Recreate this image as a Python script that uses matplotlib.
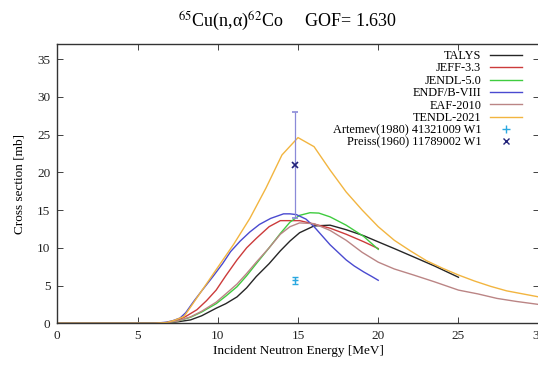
#!/usr/bin/env python3
"""Cross-section comparison plot for 65Cu(n,a)62Co."""

import matplotlib
matplotlib.use('Agg')
import matplotlib.pyplot as plt
from matplotlib.lines import Line2D

plt.rcParams['font.family'] = ['Liberation Serif', 'DejaVu Serif']
plt.rcParams['mathtext.fontset'] = 'stix'

# ── Evaluated cross sections [MeV, mb] ───────────────────────────────────
talys_e = [0, 6.0, 6.8, 7.5, 8.3, 9.0, 9.9, 10.5, 11.2, 11.8, 12.4, 13.2, 13.9, 14.5, 15.1, 16.0, 17.0, 18.0, 19.1, 20.1, 21.0, 22.2, 23.5, 25.0]
talys_s = [0, 0, 0.05, 0.2, 0.45, 1.0, 2.0, 2.6, 3.5, 4.7, 6.2, 7.9, 9.6, 10.9, 12.0, 12.9, 13.0, 12.4, 11.6, 10.7, 9.9, 8.8, 7.6, 6.1]

jeff_e = [0, 6.0, 6.8, 7.5, 8.0, 8.7, 9.3, 9.9, 10.5, 11.2, 11.8, 12.4, 13.2, 13.9, 15.1, 16.0, 17.0, 18.0, 19.1, 20.0]
jeff_s = [0, 0, 0.1, 0.4, 0.9, 1.8, 3.0, 4.4, 6.3, 8.4, 10.0, 11.25, 12.8, 13.6, 13.6, 13.15, 12.6, 11.8, 10.8, 9.9]

jendl_e = [0, 6.0, 6.8, 7.5, 8.3, 9.0, 9.9, 10.5, 11.2, 11.8, 12.4, 13.2, 13.9, 14.5, 15.1, 15.75, 16.3, 17.0, 18.0, 19.1, 20.0]
jendl_s = [0, 0, 0.05, 0.3, 0.8, 1.5, 2.6, 3.6, 4.85, 6.3, 7.9, 10.0, 11.9, 13.4, 14.3, 14.65, 14.6, 14.1, 13.0, 11.5, 9.8]

endf_e = [0, 6.0, 6.8, 7.2, 7.65, 8.0, 8.5, 9.0, 9.7, 10.3, 10.8, 11.4, 12.0, 12.6, 13.3, 14.1, 14.5, 14.9, 15.5, 16.0, 16.5, 17.0, 17.5, 18.0, 18.5, 19.1, 19.6, 20.0]
endf_s = [0, 0, 0.15, 0.35, 0.7, 1.4, 2.9, 4.3, 6.2, 7.9, 9.5, 10.9, 12.1, 13.1, 13.9, 14.5, 14.5, 14.4, 13.8, 12.8, 11.6, 10.4, 9.4, 8.4, 7.6, 6.8, 6.2, 5.7]

eaf_e = [0, 6.0, 6.8, 7.5, 8.3, 9.0, 9.9, 10.5, 11.2, 11.8, 12.4, 13.2, 13.9, 14.5, 15.1, 16.0, 17.0, 18.0, 19.0, 20.0, 21.0, 22.2, 23.5, 25.0, 26.2, 27.4, 28.6, 30.0]
eaf_s = [0, 0, 0.05, 0.3, 0.85, 1.6, 2.8, 3.9, 5.2, 6.6, 8.1, 10.0, 11.8, 12.8, 13.3, 13.2, 12.3, 11.0, 9.4, 8.1, 7.2, 6.4, 5.5, 4.4, 3.9, 3.3, 2.9, 2.5]

tendl_e = [0, 6.0, 6.8, 7.3, 7.9, 8.9, 9.9, 11.0, 12.0, 13.0, 14.0, 15.0, 16.0, 17.0, 18.0, 19.0, 20.0, 21.0, 22.0, 23.0, 24.0, 25.0, 26.0, 27.0, 28.0, 29.0, 30.0]
tendl_s = [0, 0, 0.1, 0.4, 0.9, 4.0, 7.1, 10.5, 13.9, 17.9, 22.3, 24.6, 23.4, 20.3, 17.4, 15.0, 12.8, 11.0, 9.6, 8.3, 7.3, 6.4, 5.6, 4.9, 4.3, 3.9, 3.5]

# ── Experimental points ─────────────────────────────────────────────────
artemev_e = [14.8]
artemev_s = [5.7]
artemev_err = [0.5]

preiss_e = [14.8]
preiss_s = [21.0]
preiss_err = [7.0]

curves = [
    ('TALYS', talys_e, talys_s, '#262626'),
    ('JEFF-3.3', jeff_e, jeff_s, '#cc3b3b'),
    ('JENDL-5.0', jendl_e, jendl_s, '#3fcc3f'),
    ('ENDF/B-VIII', endf_e, endf_s, '#4a4ad0'),
    ('EAF-2010', eaf_e, eaf_s, '#bb8585'),
    ('TENDL-2021', tendl_e, tendl_s, '#f2b540'),
]
artemev_color = '#2aa8e0'
preiss_color = '#22227a'

fig = plt.figure(figsize=(5.38, 3.65), dpi=100)
ax = fig.add_axes([0.1065, 0.1142, 0.8948, 0.7653])

handles = []
for label, e, s, color in curves:
    line, = ax.plot(e, s, color=color, linewidth=1.0, label=label)
    handles.append(line)

ax.errorbar(artemev_e, artemev_s, yerr=artemev_err, fmt='+', color=artemev_color,
            ecolor=artemev_color, elinewidth=0.8, capsize=2, markersize=5,
            markeredgewidth=1.0)
ax.errorbar(preiss_e, preiss_s, yerr=preiss_err, fmt='x', color=preiss_color,
            ecolor='#8a8ad8', elinewidth=0.9, capsize=2, markersize=4,
            markeredgewidth=1.2)

# marker-only legend entries for the measurements
handles.append(Line2D([], [], linestyle='none', marker='+', color=artemev_color,
                      markersize=6, markeredgewidth=1.0,
                      label='Artemev(1980) 41321009 W1'))
handles.append(Line2D([], [], linestyle='none', marker='x', color=preiss_color,
                      markersize=5, markeredgewidth=1.0,
                      label='Preiss(1960) 11789002 W1'))

ax.set_xlim(0, 30)
ax.set_ylim(0, 37)
ax.set_xticks(range(0, 31, 5))
ax.set_yticks(range(0, 36, 5))
ax.tick_params(direction='in', top=True, right=True, length=4, width=0.6,
               labelsize=9.5, pad=5, colors='#222222')
for sp in ax.spines.values():
    sp.set_linewidth(1.0)
    sp.set_color('#333333')

ax.set_xlabel('Incident Neutron Energy [MeV]', fontsize=9.5, labelpad=2)
ax.set_ylabel('Cross section [mb]', fontsize=9.5, labelpad=8)

fig.text(0.535, 0.94, '$^{65}$Cu(n,α)$^{62}$Co     GOF= 1.630',
         ha='center', va='center', fontsize=13)

leg = ax.legend(handles=handles, loc='upper right', bbox_to_anchor=(0.977, 1.0),
                frameon=False, markerfirst=False, fontsize=8.8, handlelength=2.6,
                handletextpad=0.7, labelspacing=0.03, borderaxespad=0.1)
for t in leg.get_texts():
    t.set_ha('right')

fig.savefig('out.png', dpi=100)
